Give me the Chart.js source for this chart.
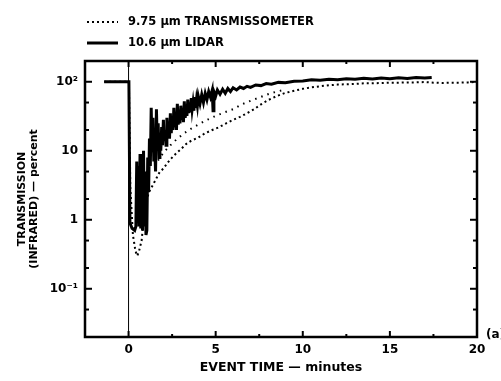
<!DOCTYPE html>
<html><head><meta charset="utf-8">
<script src="https://cdn.jsdelivr.net/npm/chart.js@4"></script>
<style>html,body{margin:0;padding:0;background:#fff}#wrap{width:501px;height:381px;position:relative}</style>
</head><body><div id="wrap"><canvas id="c" width="501" height="381"></canvas></div>
<script>
// ---- data ----
const seriesLabels = ['9.75 \u03bcm TRANSMISSOMETER', '10.6 \u03bcm LIDAR'];

const lidarTime = [-1.4,-0.05,0.02,0.08,0.2,0.35,0.42,0.47,0.5,0.56,0.6,0.66,0.7,0.76,0.8,0.86,0.9,0.95,1.0,1.05,
  1.10,1.15,1.20,1.25,1.30,1.35,1.40,1.45,1.50,1.55,1.60,1.65,1.70,1.75,1.80,1.85,1.90,1.95,2.00,2.05,2.10,2.15,2.20,2.25,2.30,2.35,2.40,2.45,2.50,2.55,2.60,2.65,2.70,2.75,2.80,2.85,2.90,2.95,3.00,3.05,3.10,3.15,3.20,3.25,3.30,3.35,3.40,3.45,3.50,3.55,3.60,3.65,3.70,3.75,3.80,3.85,3.90,3.95,4.00,4.10,4.20,4.30,4.40,4.50,4.60,4.70,4.80,4.85,4.90,5.00,5.10,5.25,5.40,5.55,5.70,5.85,6.00,6.2,6.4,6.6,6.8,7.0,7.3,7.6,7.9,8.2,8.6,9.0,9.5,10,10.5,11,11.5,12,12.5,13,13.5,14,14.5,15,15.5,16,16.5,17,17.4];
const lidarPct  = [100,100,100,0.9,0.75,0.7,0.8,7,0.9,6,0.8,9,0.75,8,0.7,10,0.8,5,0.6,0.7,
  8,2.5,15,6,42,10,30,7,12,5,40,12,25,8,18,10,22,12,28,14,20,12,30,16,24,15,35,18,28,20,42,22,30,20,48,24,35,25,45,28,40,26,52,30,42,32,55,35,48,36,58,40,50,38,60,42,55,45,62,48,65,50,68,55,72,60,75,38,72,62,76,66,78,68,80,72,82,76,84,80,86,83,90,88,94,92,98,97,102,103,107,105,109,107,111,109,112,110,113,111,114,112,115,113,115,114,110];

const transTime = [-1.4,0.02,0.1,0.25,0.4,0.5,0.6,0.75,0.85,0.95,1.05,1.2,1.4,1.6,1.8,2.0,2.2,2.4,2.6,2.8,3.0,3.3,3.6,4.0,4.4,4.8,5.2,5.6,6.0,6.4,6.8,7.2,7.6,8.0,8.5,9.0,9.5,10,10.5,11,11.5,12,12.5,13,13.5,14,14.5,15,15.5,16,16.5,17,17.5,18,18.5,19,19.5,20];
const transPct  = [100,100,3,0.6,0.35,0.3,0.35,0.5,0.9,1.4,2,2.6,3.2,4,5,5.5,6.5,7.5,8.5,9.5,10.5,12.5,14,15.5,18,20,22,25,28,31,35,40,47,54,62,69,74,79,83,86,89,91,92,93,95,95,96,97,97,98,98,99,97,96,97,97,98,100];

const transUpperTime = [1.5,1.8,2.1,2.4,2.8,3.2,3.6,4.0,4.5,5.0,5.5,6.0,6.5,7.0,7.5,8.0,8.5,9.0];
const transUpperPct  = [6,8,10,12,15,18,21,24,28,32,36,40,47,53,59,66,72,77];

const xMajorTicks = [0,5,10,15,20];
const xMinorTicks = [2.5,7.5,12.5,17.5];
const yMajorTicks = [0.1,1,10,100];
const yTickLabels = ['10\u207b\u00b9','1','10','10\u00b2'];
const yMinorTicks = [0.05,0.2,0.5,2,5,20,50];

const pts = (xs, ys) => xs.map((t, i) => ({x: t, y: ys[i]}));

const FONT = '"DejaVu Sans", "Liberation Sans", sans-serif';

const framePlugin = {
  id: 'frameTicksLegend',
  afterDraw(chart) {
    const {ctx, chartArea: a, scales: {x, y}} = chart;
    ctx.save();
    ctx.strokeStyle = '#000';
    ctx.fillStyle = '#000';
    ctx.setLineDash([]);
    ctx.lineWidth = 2.5;
    ctx.strokeRect(a.left, a.top, a.right - a.left, a.bottom - a.top);
    ctx.lineWidth = 2;
    const seg = (x1, y1, x2, y2) => { ctx.beginPath(); ctx.moveTo(x1, y1); ctx.lineTo(x2, y2); ctx.stroke(); };
    yMajorTicks.forEach(v => { const p = y.getPixelForValue(v); seg(a.left, p, a.left + 7, p); seg(a.right, p, a.right - 7, p); });
    yMinorTicks.forEach(v => { const p = y.getPixelForValue(v); seg(a.left, p, a.left + 4, p); seg(a.right, p, a.right - 4, p); });
    xMajorTicks.forEach(v => { const p = x.getPixelForValue(v); seg(p, a.bottom, p, a.bottom - 6); seg(p, a.top, p, a.top + 6); });
    xMinorTicks.forEach(v => { const p = x.getPixelForValue(v); seg(p, a.bottom, p, a.bottom - 3); seg(p, a.top, p, a.top + 3); });

    // legend
    const ds = chart.data.datasets;
    const rows = [{i: 0, y: 22}, {i: 1, y: 43}];
    ctx.font = 'bold 11.5px ' + FONT;
    ctx.textBaseline = 'middle';
    ctx.textAlign = 'left';
    rows.forEach(r => {
      const d = ds[r.i];
      ctx.setLineDash(d.borderDash || []);
      ctx.lineWidth = d.borderWidth;
      seg(87, r.y, 118, r.y);
      ctx.setLineDash([]);
      ctx.fillText(d.label, 128, r.y);
    });
    ctx.font = 'bold 12px ' + FONT;
    ctx.fillText('(a)', 486, a.bottom - 2);
    ctx.restore();
  }
};

new Chart(document.getElementById('c'), {
  type: 'line',
  data: {
    datasets: [
      { label: seriesLabels[0], data: pts(transTime, transPct), borderColor: '#000', borderWidth: 2, borderDash: [2, 3], pointRadius: 0, tension: 0, fill: false },
      { label: seriesLabels[1], data: pts(lidarTime, lidarPct), borderColor: '#000', borderWidth: 3, pointRadius: 0, tension: 0, fill: false },
      { label: '', data: pts(transUpperTime, transUpperPct), borderColor: '#000', borderWidth: 2, borderDash: [1.5, 5], pointRadius: 0, tension: 0, fill: false },
      { label: '', data: [{x: 0, y: 0.02}, {x: 0, y: 200}], borderColor: '#000', borderWidth: 1, pointRadius: 0, fill: false }
    ]
  },
  options: {
    responsive: false,
    animation: false,
    devicePixelRatio: 1,
    layout: { padding: { top: 61, right: 24, left: 0, bottom: 0 } },
    plugins: { legend: { display: false }, tooltip: { enabled: false } },
    scales: {
      x: {
        type: 'linear', min: -2.5, max: 20,
        afterBuildTicks: s => { s.ticks = xMajorTicks.map(v => ({value: v})); },
        afterFit: s => { s.height = 44; },
        grid: { display: false, drawTicks: false },
        border: { display: false },
        ticks: { color: '#000', padding: 6, font: { family: FONT, weight: 'bold', size: 12 }, autoSkip: false, maxRotation: 0 },
        title: { display: true, text: 'EVENT TIME \u2014 minutes', color: '#000', font: { family: FONT, weight: 'bold', size: 12.5 }, padding: { top: 0, bottom: 6 } }
      },
      y: {
        type: 'logarithmic', min: 0.02, max: 200,
        afterBuildTicks: s => { s.ticks = yMajorTicks.map(v => ({value: v})); },
        afterFit: s => { s.width = 85; },
        grid: { display: false, drawTicks: false },
        border: { display: false },
        ticks: { color: '#000', padding: 7, font: { family: FONT, weight: 'bold', size: 12 }, autoSkip: false,
          callback: v => { const i = yMajorTicks.indexOf(v); return i >= 0 ? yTickLabels[i] : ''; } },
        title: { display: true, text: ['TRANSMISSION', '(INFRARED) \u2014 percent'], color: '#000', font: { family: FONT, weight: 'bold', size: 11, lineHeight: 1.1 }, padding: { top: 16, bottom: 0 } }
      }
    }
  },
  plugins: [framePlugin]
});
</script></body></html>
